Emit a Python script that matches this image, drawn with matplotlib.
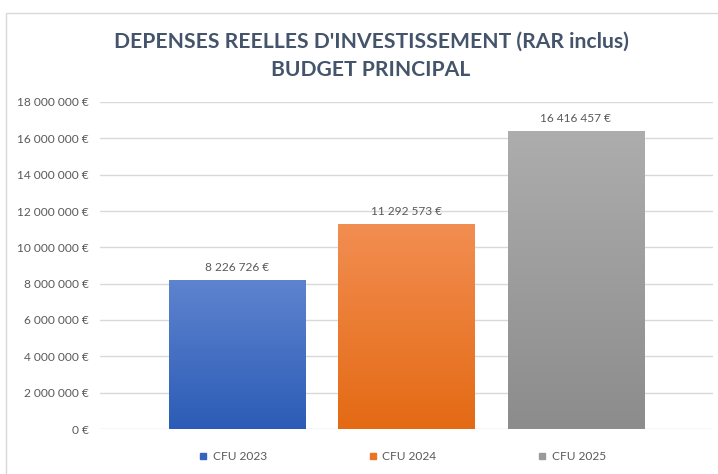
import matplotlib
matplotlib.use("Agg")
import matplotlib.pyplot as plt
import matplotlib.transforms as mtransforms
from matplotlib.patches import Rectangle
import numpy as np
from matplotlib.colors import LinearSegmentedColormap

categories = ["CFU 2023", "CFU 2024", "CFU 2025"]
values = [8226726, 11292573, 16416457]
yticks = [0, 2000000, 4000000, 6000000, 8000000, 10000000, 12000000, 14000000, 16000000, 18000000]
title = "DEPENSES REELLES D'INVESTISSEMENT (RAR inclus)\nBUDGET PRINCIPAL"

top_colors = ["#5E84CE", "#F28E52", "#ADADAD"]
bottom_colors = ["#2C5CB7", "#E46A14", "#8C8C8C"]
legend_colors = ["#3563BD", "#EC7425", "#9A9A9A"]

FONT = "Lato"
plt.rcParams["font.family"] = [FONT, "DejaVu Sans"]

def fmt(v):
    s = f"{int(v):,}".replace(",", " ")
    return s + " €"

fig = plt.figure(figsize=(7.18, 4.74), dpi=100)
fig.patch.set_facecolor("white")

# chart frame
fig.patches.append(Rectangle((6/718, -0.1), 1.2, (474-13)/474 + 0.1, transform=fig.transFigure,
                             fill=False, edgecolor="#D9D9D9", linewidth=1.0))

ax = fig.add_axes([100/718, (474-429)/474, (713-100)/718, (429-102)/474])
ax.set_facecolor("none")

x = np.arange(len(categories))
width = 0.805
bars = ax.bar(x, values, width=width, color="none", edgecolor="none", zorder=3)

for i, b in enumerate(bars):
    cmap = LinearSegmentedColormap.from_list("g", [bottom_colors[i], top_colors[i]])
    grad = np.linspace(0, 1, 256).reshape(-1, 1)
    im = ax.imshow(grad, cmap=cmap, aspect="auto", origin="lower",
                   extent=[b.get_x(), b.get_x() + b.get_width(), 0, b.get_height()], zorder=3)
    im.set_clip_path(b)
    ax.text(b.get_x() + b.get_width() / 2, b.get_height() + 350000, fmt(values[i]),
            ha="center", va="bottom", fontsize=8.6, color="#595959", zorder=4)

ax.set_xlim(-0.81, 2.81)
ax.set_ylim(0, 18000000)
ax.set_yticks(yticks)
ax.set_yticklabels([fmt(v) for v in yticks], fontsize=8.6, color="#595959")
ax.tick_params(axis="y", length=0, pad=8)
ax.set_xticks([])
ax.grid(axis="y", color="#D9D9D9", linewidth=1.0, zorder=0)
ax.set_axisbelow(True)
for s in ax.spines.values():
    s.set_visible(False)

# legend below each bar
trans = mtransforms.blended_transform_factory(ax.transData, fig.transFigure)
for i, c in enumerate(categories):
    tr_sq = mtransforms.offset_copy(trans, fig=fig, x=-34, y=0, units="dots")
    ax.plot([x[i]], [(474-456)/474], marker="s", markersize=5, color=legend_colors[i],
            transform=tr_sq, clip_on=False, linestyle="none")
    tr_tx = mtransforms.offset_copy(trans, fig=fig, x=-24, y=0, units="dots")
    ax.text(x[i], (474-456)/474, c, transform=tr_tx, ha="left", va="center",
            fontsize=8.6, color="#595959", clip_on=False)

fig.text(371/718, (474-56)/474, title, ha="center", va="center", fontsize=15.2,
         fontweight="bold", color="#44546A", linespacing=1.55)

fig.savefig("out.png", dpi=100, facecolor="white")
